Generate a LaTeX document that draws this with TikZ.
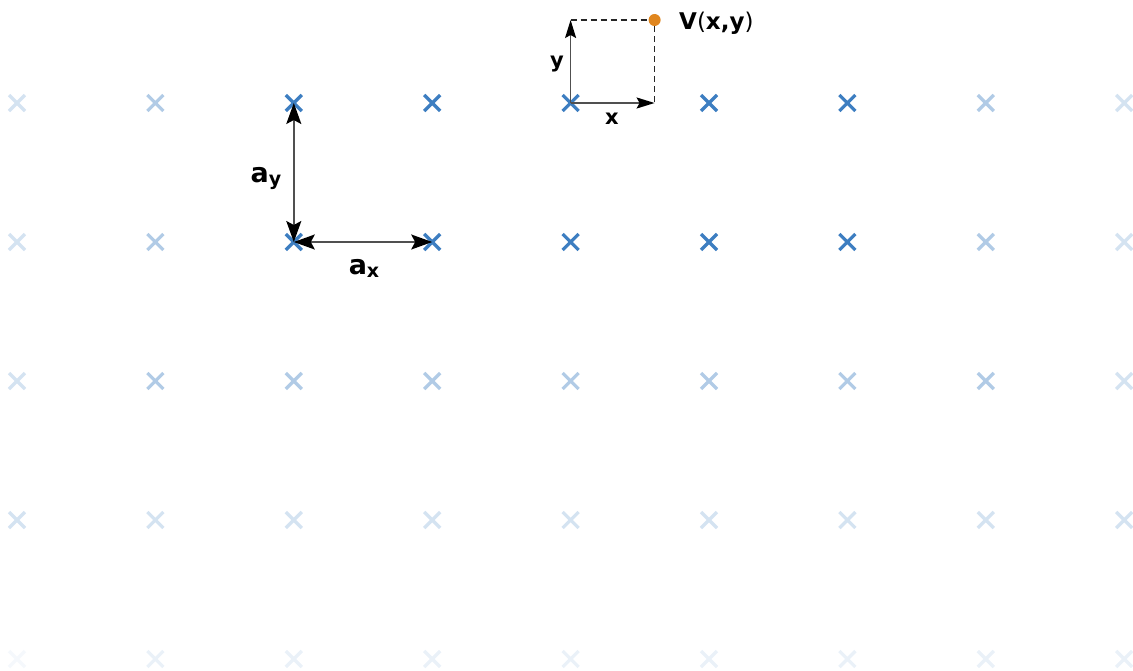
\documentclass[tikz,border=0pt]{standalone}
\usepackage{fontspec}
\setmainfont{DejaVu Sans}
\usetikzlibrary{arrows.meta}
\definecolor{latblue}{RGB}{61,126,193}
\definecolor{ptorange}{RGB}{224,134,30}
\definecolor{linegray}{RGB}{80,80,80}
\newcommand{\fsz}[1]{\fontsize{#1}{#1}\selectfont}
\tikzset{
  crossmark/.style={draw=latblue, line width=3.3pt},
  bigarrow/.style={draw=linegray, line width=1.8pt, {Stealth[length=21pt,width=15pt,inset=4pt,black]}-{Stealth[length=21pt,width=15pt,inset=4pt,black]}},
  smallarrow/.style={draw=linegray, line width=1.7pt, -{Stealth[length=18pt,width=11pt,inset=3pt,black]}},
  dashline/.style={draw=black!85, line width=1.2pt, dash pattern=on 6pt off 4pt},
  lbl/.style={inner sep=0pt, font=\bfseries},
}
\begin{document}
\begin{tikzpicture}[x=1pt,y=-1pt]
\useasboundingbox (0,0) rectangle (1133,670);
% lattice
\foreach \r in {0,...,4}{
  \foreach \c in {0,...,8}{
    \pgfmathsetmacro{\px}{17+138.4*\c}
    \pgfmathsetmacro{\py}{103+139*\r}
    \pgfmathsetmacro{\dx}{max(0,2-\c,\c-6)}
    \pgfmathsetmacro{\dy}{max(0,\r-1)}
    \pgfmathsetmacro{\dd}{max(\dx,\dy)}
    \pgfmathsetmacro{\op}{\dd==0 ? 1 : (\dd==1 ? 0.4 : (\dd==2 ? 0.22 : 0.11))}
    \pgfmathsetmacro{\opp}{(\r==4 && \c==0) ? 0.05 : \op}
    \coordinate (p-\c-\r) at (\px,\py);
    \draw[crossmark, opacity=\opp] ([shift={(-8,-8)}]p-\c-\r) -- ([shift={(8,8)}]p-\c-\r)
                                   ([shift={(-8,8)}]p-\c-\r) -- ([shift={(8,-8)}]p-\c-\r);
  }
}
% lattice vectors
\draw[bigarrow] (p-2-0) -- (p-2-1);
\draw[bigarrow] (p-2-1) -- (p-3-1);
\node[lbl, anchor=base] (ay) at (266,182) {\fsz{27}a\raisebox{-3pt}{\fsz{19}y}};
\node[lbl, anchor=base] (ax) at (364,274) {\fsz{27}a\raisebox{-3pt}{\fsz{19}x}};
% point V
\coordinate (vtop) at ([yshift=83pt]p-4-0);
\coordinate (vx) at ([xshift=84pt]p-4-0);
\coordinate (vpt) at (vx |- vtop);
\draw[dashline] (vtop) -- (vpt) -- (vx);
\draw[smallarrow] (p-4-0) -- (vtop);
\draw[smallarrow] (p-4-0) -- (vx);
\fill[ptorange] (vpt) circle (6pt);
\node[lbl, anchor=center] (ylab) at (557,64) {\fsz{21}y};
\node[lbl, anchor=center] (xlab) at (612,119) {\fsz{21}x};
\node[lbl, anchor=base west] (vlab) at (679,29) {\fsz{23}V{\mdseries(}x,y{\mdseries)}};
\end{tikzpicture}
\end{document}
